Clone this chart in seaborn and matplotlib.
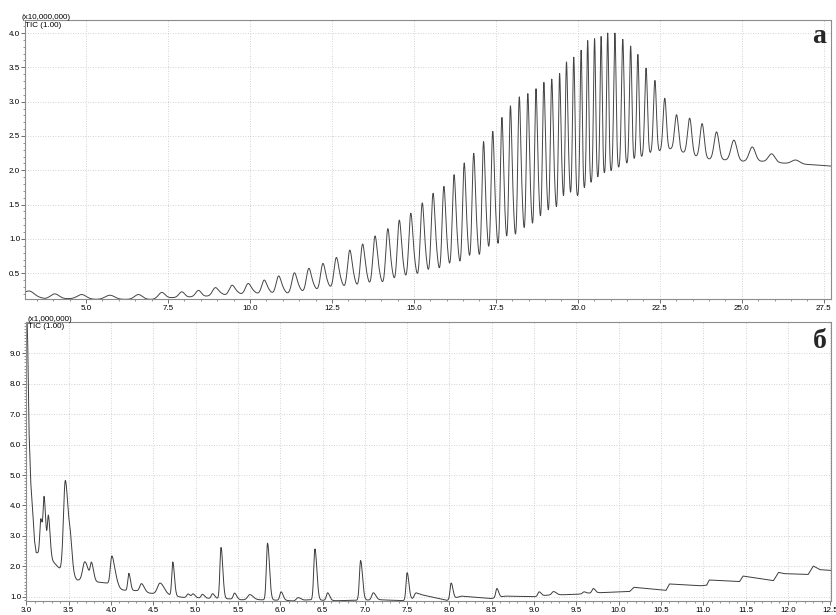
import numpy as np
import pandas as pd
import matplotlib
matplotlib.use("Agg")
import matplotlib.pyplot as plt
from matplotlib.ticker import MultipleLocator
import seaborn as sns

# ---------------- Chromatogram "а" (TIC, x10,000,000) ----------------
# Peak apexes: retention time (min) and apex intensity
a_peak_time = [3.29, 4.05, 4.87, 5.73, 6.60, 7.31, 7.92, 8.43, 8.94, 9.45,
               9.94, 10.43, 10.87, 11.35, 11.79, 12.22, 12.63, 13.04, 13.43, 13.81,
               14.20, 14.55, 14.90, 15.25, 15.58, 15.91, 16.22, 16.53, 16.82, 17.12,
               17.40, 17.68, 17.94, 18.21, 18.47, 18.72, 18.96, 19.20, 19.44, 19.65,
               19.875, 20.10, 20.30, 20.51, 20.71, 20.91, 21.13, 21.37, 21.61, 21.83,
               22.08, 22.35, 22.65, 23.01, 23.41, 23.79, 24.23, 24.76, 25.32, 25.91,
               26.64]
a_peak_apex = [0.24, 0.20, 0.19, 0.18, 0.19, 0.22, 0.23, 0.25, 0.29, 0.325,
               0.35, 0.40, 0.46, 0.505, 0.57, 0.641, 0.729, 0.835, 0.923, 1.04,
               1.146, 1.27, 1.37, 1.52, 1.66, 1.76, 1.93, 2.10, 2.24, 2.41,
               2.56, 2.76, 2.93, 3.06, 3.11, 3.18, 3.27, 3.32, 3.40, 3.57,
               3.65, 3.75, 3.89, 3.92, 3.95, 4.00, 4.00, 3.91, 3.81, 3.69,
               3.49, 3.31, 3.05, 2.81, 2.76, 2.68, 2.56, 2.44, 2.34, 2.24,
               2.15]
# Baseline (valley envelope)
a_base_time = [3.14, 3.75, 4.46, 5.33, 6.19, 7.01, 7.62, 8.17, 8.63, 9.24,
               9.70, 10.21, 10.62, 11.13, 11.63, 12.45, 13.36, 14.28, 15.09, 15.81,
               16.42, 17.03, 17.64, 18.15, 18.65, 19.11, 19.57, 19.98, 20.41, 20.81,
               21.25, 21.73, 22.24, 22.83, 23.21, 23.60, 24.03, 24.49, 25.04, 25.63,
               26.39, 27.20, 27.77]
a_base_level = [0.20, 0.13, 0.13, 0.12, 0.12, 0.12, 0.145, 0.155, 0.165, 0.18,
                0.19, 0.20, 0.20, 0.20, 0.22, 0.27, 0.29, 0.34, 0.41, 0.48,
                0.56, 0.66, 0.80, 0.92, 1.05, 1.22, 1.43, 1.60, 1.80, 1.92,
                2.02, 2.14, 2.25, 2.31, 2.26, 2.20, 2.16, 2.15, 2.13, 2.13,
                2.10, 2.08, 2.06]
a_xticks = [5.0, 7.5, 10.0, 12.5, 15.0, 17.5, 20.0, 22.5, 25.0, 27.5]
a_yticks = [0.5, 1.0, 1.5, 2.0, 2.5, 3.0, 3.5, 4.0]

# ---------------- Chromatogram "б" (TIC, x1,000,000) ----------------
b_peak_time = [3.17, 3.21, 3.26, 3.46, 3.52, 3.69, 3.77, 4.01, 4.06, 4.21,
               4.36, 4.58, 4.73, 4.91, 4.97, 5.08, 5.20, 5.30, 5.46, 5.64,
               5.85, 6.01, 6.21, 6.41, 6.56, 6.95, 7.10, 7.50, 7.60, 8.02,
               8.56, 9.06, 9.23, 9.59, 9.70]
b_peak_apex = [3.56, 4.16, 3.62, 4.82, 2.45, 2.15, 2.05, 2.33, 1.50, 1.77,
               1.43, 1.45, 2.14, 1.09, 1.09, 1.08, 1.10, 2.62, 1.12, 1.07,
               2.76, 1.16, 0.97, 2.57, 1.13, 2.19, 1.13, 1.79, 1.12, 1.45,
               1.27, 1.16, 1.17, 1.16, 1.27]
b_peak_sigma = [0.012, 0.012, 0.012, 0.022, 0.015, 0.025, 0.015, 0.018, 0.02, 0.012,
                0.02, 0.03, 0.012, 0.015, 0.015, 0.015, 0.015, 0.013, 0.015, 0.025,
                0.014, 0.015, 0.02, 0.014, 0.015, 0.014, 0.018, 0.013, 0.015, 0.013,
                0.013, 0.015, 0.02, 0.015, 0.015]
b_base_time = [3.000, 3.015, 3.030, 3.050, 3.075, 3.095, 3.115, 3.20, 3.30, 3.40,
               3.50, 3.60, 3.85, 3.95, 4.10, 4.30, 4.45, 4.68, 4.85, 5.15,
               5.40, 5.54, 5.76, 6.07, 6.15, 6.34, 6.66, 7.18, 7.45, 7.56,
               7.65, 7.97, 8.14, 8.49, 8.66, 9.01, 9.15, 9.51, 9.65, 10.02,
               10.13, 10.18, 10.56, 10.60, 10.96, 11.04, 11.07, 11.43, 11.47, 11.83,
               11.89, 11.95, 12.24, 12.30, 12.38, 12.54]
b_base_level = [11.0, 9.4, 6.5, 4.8, 3.8, 2.85, 2.45, 2.40, 2.20, 1.90,
                1.75, 1.55, 1.48, 1.45, 1.22, 1.20, 1.12, 1.05, 0.98, 0.95,
                0.93, 0.90, 0.90, 0.88, 0.86, 0.90, 0.87, 0.90, 0.87, 0.93,
                1.08, 0.88, 1.02, 0.94, 1.02, 1.00, 1.05, 1.08, 1.12, 1.16,
                1.17, 1.31, 1.21, 1.42, 1.36, 1.38, 1.55, 1.50, 1.68, 1.53,
                1.80, 1.76, 1.73, 2.01, 1.89, 1.86]
b_xticks = [3.0, 3.5, 4.0, 4.5, 5.0, 5.5, 6.0, 6.5, 7.0, 7.5,
            8.0, 8.5, 9.0, 9.5, 10.0, 10.5, 11.0, 11.5, 12.0, 12.5]
b_yticks = [1.0, 2.0, 3.0, 4.0, 5.0, 6.0, 7.0, 8.0, 9.0]


def peak_shape(t, center, sigma_left, sigma_right):
    s = np.where(t < center, sigma_left, sigma_right)
    return np.exp(-0.5 * ((t - center) / s) ** 2)


def trace_a(t):
    pt = np.asarray(a_peak_time)
    base = np.interp(t, a_base_time, a_base_level)
    gaps = np.diff(pt)
    gap = np.minimum(np.r_[gaps[0], gaps], np.r_[gaps, gaps[-1]])
    sigma = gap / 6.0
    y = base.copy()
    for tc, apex, s, g in zip(pt, a_peak_apex, sigma, gap):
        amp = apex - np.interp(tc, a_base_time, a_base_level)
        if 8.9 <= tc <= 19.7:
            # main peak with a small trailing co-eluting shoulder
            d, k = 0.3 * g, 0.25
            main = amp / (1 + k * np.exp(-0.5 * (d / s) ** 2))
            y += main * peak_shape(t, tc, s, s) + k * main * peak_shape(t, tc + d, s, s)
        else:
            y += amp * peak_shape(t, tc, s, s)
    return y


def trace_b(t):
    base = np.interp(t, b_base_time, b_base_level)
    y = base.copy()
    for tc, apex, s in zip(b_peak_time, b_peak_apex, b_peak_sigma):
        amp = apex - np.interp(tc, b_base_time, b_base_level)
        y += amp * peak_shape(t, tc, s, 1.6 * s)
    return y


sns.set_theme(style="white")
plt.rcParams["font.family"] = ["Liberation Sans", "DejaVu Sans"]

W, H = 836, 615
fig = plt.figure(figsize=(W / 100, H / 100), dpi=100)
ax_a = fig.add_axes([25 / W, 1 - 299 / H, 806 / W, 279 / H])
ax_b = fig.add_axes([26 / W, 1 - 601 / H, 805 / W, 279 / H])

t_a = np.linspace(3.14, 27.72, 6000)
df_a = pd.DataFrame({"time": t_a, "tic": trace_a(t_a)})
t_b = np.linspace(3.0, 12.52, 6000)
df_b = pd.DataFrame({"time": t_b, "tic": trace_b(t_b)})

sns.lineplot(data=df_a, x="time", y="tic", ax=ax_a, color="#444444",
             linewidth=0.7, estimator=None)
sns.lineplot(data=df_b, x="time", y="tic", ax=ax_b, color="#3c3c3c",
             linewidth=0.7, estimator=None)


def style_axes(ax, xticks, yticks, xlim, ylim, xminor, yminor):
    ax.set_xlim(*xlim)
    ax.set_ylim(*ylim)
    ax.set_xticks(xticks)
    ax.set_xticklabels([f"{v:.1f}" for v in xticks])
    ax.set_yticks(yticks)
    ax.set_yticklabels([f"{v:.1f}" for v in yticks])
    ax.xaxis.set_minor_locator(MultipleLocator(xminor))
    ax.yaxis.set_minor_locator(MultipleLocator(yminor))
    ax.set_xlabel("")
    ax.set_ylabel("")
    ax.tick_params(which="major", direction="out", length=3, width=0.6,
                   color="#555555", labelsize=5.8, labelcolor="#000000")
    ax.tick_params(axis="x", which="major", pad=1.5)
    ax.tick_params(axis="y", which="major", pad=0.5)
    ax.tick_params(which="minor", direction="out", length=1.5, width=0.5,
                   color="#666666", bottom=True, left=True)
    ax.tick_params(bottom=True, left=True)
    ax.grid(True, which="major", linestyle=(0, (1, 2)), color="#c4c4c4",
            linewidth=0.6)
    ax.set_axisbelow(True)
    for sp in ax.spines.values():
        sp.set_visible(True)
        sp.set_color("#8c8c8c")
        sp.set_linewidth(0.8)


style_axes(ax_a, a_xticks, a_yticks, (3.14, 27.72), (0.125, 4.19), 0.5, 0.1)
style_axes(ax_b, b_xticks, b_yticks, (2.995, 12.51), (0.86, 10.03), 0.1, 0.1)

# scale annotations and trace names
fig.text(21 / W, 1 - 19 / H, "(x10,000,000)", fontsize=5.8, color="#000000",
         ha="left", va="baseline")
fig.text(25 / W, 1 - 27 / H, "TIC (1.00)", fontsize=5.8, color="#000000",
         ha="left", va="baseline")
fig.text(27 / W, 1 - 321 / H, "(x1,000,000)", fontsize=5.8, color="#000000",
         ha="left", va="baseline")
fig.text(28 / W, 1 - 328 / H, "TIC (1.00)", fontsize=5.8, color="#000000",
         ha="left", va="baseline")

fig.text(826 / W, 1 - 43 / H, "а", fontsize=20, fontweight="bold",
         family=["Liberation Serif", "DejaVu Serif"], ha="right", va="baseline")
fig.text(827 / W, 1 - 348 / H, "б", fontsize=20, fontweight="bold",
         family=["Liberation Serif", "DejaVu Serif"], ha="right", va="baseline")

fig.savefig("out.png", dpi=100)
